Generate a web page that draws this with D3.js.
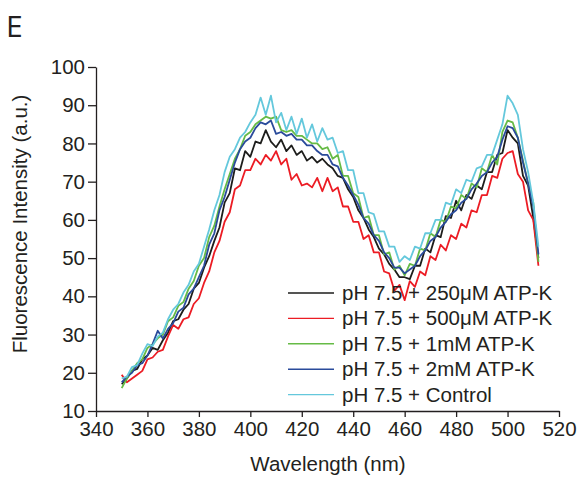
<!DOCTYPE html>
<html>
<head>
<meta charset="utf-8">
<script src="https://cdn.jsdelivr.net/npm/d3@7"></script>
<style>
  body { margin: 0; background: #fff; }
  svg text { font-family: "Liberation Sans", Arial, sans-serif; fill: #231f20; }
</style>
</head>
<body>
<div id="chart"></div>
<script>
// Wavelength grid (nm) and series values
const wavelengths = d3.range(350, 513, 2);

const atp250 = [17, 18.5, 20.5, 21, 23.5, 24.5, 26.5, 26, 28.5, 30.5,
  33.5, 34, 36.5, 38, 42, 43.5, 47.5, 50.5, 54.5, 58,
  64.5, 67, 73.5, 73, 78, 76.5, 80.5, 80, 83.5, 80.5,
  79, 81, 78, 79.5, 77, 78, 75.5, 76.5, 75, 76,
  74.5, 73.5, 71.5, 71, 68, 66, 62.5, 60.5, 57.5, 55.5,
  52.5, 51, 48.5, 47, 45, 45, 44.5, 48, 48, 52.5,
  51.5, 56, 55.5, 61, 60.5, 65, 62.5, 66.5, 65.5, 69,
  68, 72.5, 72.5, 77, 77.5, 83.5, 81.5, 80, 71.5, 69,
  60.5, 50];

const atp500 = [19.5, 17.5, 18.5, 19.5, 20.5, 23.5, 24, 25.5, 26, 29.5,
  32.5, 31.5, 34, 34.5, 38, 39.5, 43.5, 46.5, 51.5, 54.5,
  59.5, 62, 68, 69, 73, 73, 76, 74.5, 77, 75.5,
  78, 74.5, 76, 70.5, 72, 69, 69.5, 68.5, 71, 67.5,
  71, 67.5, 68.5, 63.5, 63.5, 59.5, 59.5, 55, 56, 51.5,
  51.5, 46.5, 46, 41.5, 43, 39, 44, 42.5, 46.5, 45.5,
  50.5, 49.5, 53.5, 52, 56, 55, 59, 58, 62.5, 62,
  66.5, 66.5, 71.5, 71, 76, 77.5, 78, 72, 70, 62.5,
  60, 48];

const atp1m = [16, 18.5, 20.5, 22.5, 23.5, 26.5, 27.5, 29, 30, 33.5,
  34.5, 37.5, 38.5, 42, 44, 48, 50, 55.5, 58.5, 63.5,
  68, 72, 76, 78.5, 82, 83, 85, 86, 87, 86.5,
  87, 83.5, 83, 83.5, 82, 82, 81, 80, 80, 78.5,
  79, 76, 77, 71.5, 71.5, 67, 66, 60.5, 61, 56,
  56, 51, 51.5, 47, 48, 45.5, 48.5, 48, 52.5, 52,
  56.5, 55.5, 60, 59.5, 63.5, 63, 66.5, 65.5, 69.5, 68.5,
  73.5, 72.5, 77, 74.5, 83, 86, 85.5, 81.5, 75.5, 69.5,
  64.5, 49];

const atp2m = [17.5, 19, 20, 22, 22.5, 24.5, 27.5, 31, 29, 31.5,
  33, 36, 37, 40.5, 42, 45, 48, 53.5, 56.5, 62.5,
  66, 70.5, 75, 78.5, 80.5, 81.5, 84, 85.5, 85, 86,
  82.5, 83, 82, 82.5, 81, 81, 79.5, 79.5, 78, 77,
  77, 74.5, 74, 71, 69, 66.5, 64, 60.5, 59, 56,
  54.5, 51.5, 50, 47.5, 47.5, 46, 47, 48, 50.5, 52,
  54.5, 55.5, 58, 59.5, 61.5, 62.5, 64.5, 65.5, 68, 69.5,
  71.5, 72.5, 75, 76.5, 81, 84.5, 84, 81.5, 75, 69.5,
  63.5, 51];

const control = [18.5, 19, 21.5, 22, 25, 27.5, 27, 29.5, 30.5, 34,
  36.5, 38, 41, 43, 46.5, 48.5, 53, 57.5, 62.5, 66.5,
  72.5, 76.5, 78.5, 81.5, 83, 85.5, 87.5, 92, 87.5, 92.5,
  85.5, 88, 83.5, 87, 82.5, 86.5, 81.5, 85, 80.5, 84,
  81, 81.5, 77.5, 78, 73, 73, 67, 67, 62, 61.5,
  57, 57, 53, 53, 49, 50.5, 49.5, 53, 52.5, 56.5,
  56.5, 60, 60, 64.5, 64, 68, 67, 70.5, 70, 73.5,
  74, 77, 77, 81, 85, 92.5, 90.5, 87.5, 78.5, 72.5,
  64.5, 53];

const seriesNames = ["pH 7.5 + 250\u03BCM ATP-K", "pH 7.5 + 500\u03BCM ATP-K",
  "pH 7.5 + 1mM ATP-K", "pH 7.5 + 2mM ATP-K", "pH 7.5 + Control"];
const seriesValues = [atp250, atp500, atp1m, atp2m, control];
const seriesColors = ["#1d1d1b", "#ec1c24", "#66bb46", "#2a4b9b", "#64c8dc"];

const xTicks = [340, 360, 380, 400, 420, 440, 460, 480, 500, 520];
const yTicks = [10, 20, 30, 40, 50, 60, 70, 80, 90, 100];

const width = 581, height = 477;
const margin = { left: 96, right: 22, top: 67, bottom: 66 };

const svg = d3.select('#chart')
  .append('svg')
  .attr('width', width)
  .attr('height', height);

const x = d3.scaleLinear().domain([340, 520]).range([margin.left, width - margin.right]);
const y = d3.scaleLinear().domain([10, 100]).range([height - margin.bottom, margin.top]);

// axes
const xAxis = svg.append('g')
  .attr('transform', `translate(0,${height - margin.bottom})`)
  .call(d3.axisBottom(x).tickValues(xTicks).tickSize(6).tickPadding(4).tickSizeOuter(0));
const yAxis = svg.append('g')
  .attr('transform', `translate(${margin.left},0)`)
  .call(d3.axisLeft(y).tickValues(yTicks).tickSize(8).tickPadding(3).tickSizeOuter(0));

[xAxis, yAxis].forEach(g => {
  g.selectAll('path, line').attr('stroke', '#231f20').attr('stroke-width', 1.3);
  g.selectAll('text').attr('font-size', 20.5).attr('fill', '#231f20')
    .style('font-family', '"Liberation Sans", Arial, sans-serif');
});

// lines
const line = d3.line()
  .x((d, i) => x(wavelengths[i]))
  .y(d => y(d));

svg.append('g')
  .selectAll('path')
  .data(seriesValues)
  .enter()
  .append('path')
  .attr('d', d => line(d))
  .attr('fill', 'none')
  .attr('stroke', (d, i) => seriesColors[i])
  .attr('stroke-width', 1.8)
  .attr('stroke-linejoin', 'round');

// legend
const legend = svg.append('g');
seriesNames.forEach((name, i) => {
  const ly = 293 + i * 25.4;
  legend.append('line')
    .attr('x1', 288).attr('x2', 334)
    .attr('y1', ly).attr('y2', ly)
    .attr('stroke', seriesColors[i]).attr('stroke-width', 1.4);
  legend.append('text')
    .attr('x', 342).attr('y', ly + 7)
    .attr('font-size', 20.5)
    .text(name);
});

// axis titles
svg.append('text')
  .attr('x', 328).attr('y', 471)
  .attr('text-anchor', 'middle')
  .attr('font-size', 20.5)
  .text('Wavelength (nm)');

svg.append('text')
  .attr('transform', 'translate(27,224) rotate(-90)')
  .attr('text-anchor', 'middle')
  .attr('font-size', 20.5)
  .text('Fluorescence Intensity (a.u.)');

// panel letter
svg.append('text')
  .attr('x', 6).attr('y', 37)
  .attr('font-size', 30)
  .style('font-family', '"Open Sans", "Liberation Sans", sans-serif')
  .text('E');
</script>
</body>
</html>
